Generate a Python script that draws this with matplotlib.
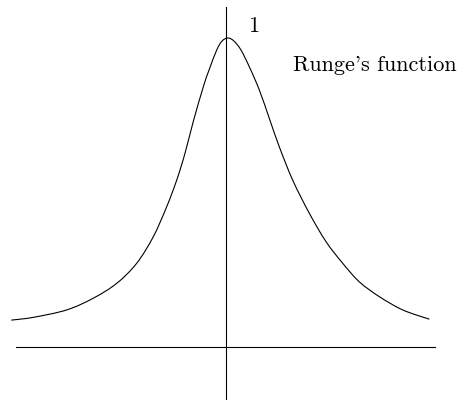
import matplotlib
matplotlib.use('Agg')
import matplotlib.pyplot as plt
from matplotlib.path import Path
from matplotlib.patches import PathPatch

# points along the bell curve (x, y), peak value 1 at the top
curve_x = [-2.147, -1.927, -1.593, -1.327, -1.093, -0.893, -0.727, -0.593,
           -0.493, -0.41, -0.327, -0.227, -0.17, -0.093, -0.04, 0.02,
           0.08, 0.15, 0.233, 0.333, 0.433, 0.533, 0.667, 0.833, 1.0,
           1.167, 1.333, 1.533, 1.767, 2.033]
curve_y = [0.087, 0.096, 0.120, 0.158, 0.206, 0.271, 0.357, 0.454,
           0.540, 0.627, 0.730, 0.842, 0.896, 0.961, 0.990, 1.0,
           0.990, 0.961, 0.907, 0.832, 0.740, 0.648, 0.540, 0.433, 0.341,
           0.271, 0.211, 0.163, 0.120, 0.090]

peak_label = '1'
curve_label = "Runge's function"


def smooth_path(xs, ys):
    # catmull-rom through the points, written as cubic bezier segments
    pts = list(zip(xs, ys))
    verts = [pts[0]]
    codes = [Path.MOVETO]
    n = len(pts)
    for i in range(n - 1):
        p0 = pts[max(i - 1, 0)]
        p1 = pts[i]
        p2 = pts[i + 1]
        p3 = pts[min(i + 2, n - 1)]
        c1 = (p1[0] + (p2[0] - p0[0]) / 6, p1[1] + (p2[1] - p0[1]) / 6)
        c2 = (p2[0] - (p3[0] - p1[0]) / 6, p2[1] - (p3[1] - p1[1]) / 6)
        verts += [c1, c2, p2]
        codes += [Path.CURVE4] * 3
    return Path(verts, codes)


fig = plt.figure(figsize=(4.64, 4.0), dpi=100)
ax = fig.add_axes([0, 0, 1, 1])
ax.set_xlim(-2.26, 2.38)
ax.set_ylim(-0.1715, 1.123)
ax.axis('off')

# axes through the origin
ax.plot([-2.10, 2.09], [0, 0], color='black', lw=0.8)
ax.plot([0, 0], [-0.1715, 1.100], color='black', lw=0.8)

ax.add_patch(PathPatch(smooth_path(curve_x, curve_y), facecolor='none',
                       edgecolor='black', lw=0.8))

ax.text(0.275, 1.020, peak_label, fontfamily='cmr10', fontsize=16,
        ha='center', va='baseline')
ax.text(0.67, 0.893, curve_label, fontfamily='cmr10', fontsize=16,
        ha='left', va='baseline')

fig.savefig('out.png', dpi=100)
